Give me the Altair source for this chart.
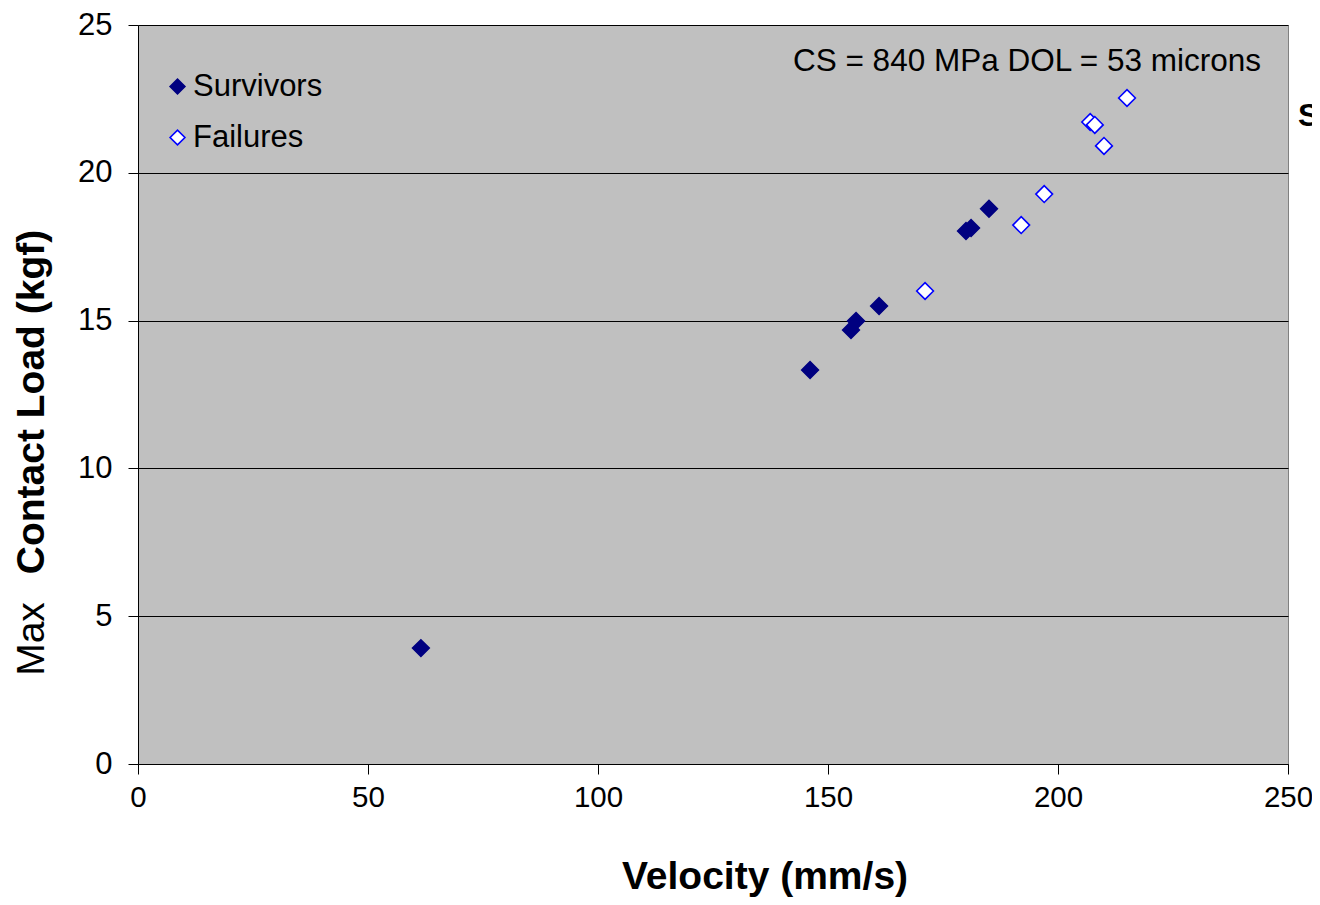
import altair as alt
import pandas as pd

surv_v = [61.5, 146.1, 155.0, 156.1, 161.1, 180.0, 181.1, 185.0]
surv_l = [3.92, 13.33, 14.68, 14.99, 15.49, 18.03, 18.13, 18.78]
fail_v = [171.1, 192.0, 197.0, 207.0, 208.0, 210.0, 215.0]
fail_l = [16.0, 18.23, 19.28, 21.72, 21.62, 20.91, 22.53]

series = ["Survivors", "Failures"]
fills = ["#000080", "#FFFFFF"]
strokes = ["#000080", "#0000FF"]

df = pd.DataFrame({
    "v": surv_v + fail_v,
    "l": surv_l + fail_l,
    "s": ["Survivors"] * len(surv_v) + ["Failures"] * len(fail_v),
})

FONT = "Liberation Sans"

x = alt.X("v:Q", scale=alt.Scale(domain=[0, 250], nice=False),
          axis=alt.Axis(values=[0, 50, 100, 150, 200, 250], title=None,
                        grid=False, domainColor="black", tickColor="black",
                        tickSize=10, labelFontSize=29.5, labelFont=FONT,
                        labelColor="black", labelPadding=9, labelFlush=False))
y = alt.Y("l:Q", scale=alt.Scale(domain=[0, 25], nice=False),
          axis=alt.Axis(values=[0, 5, 10, 15, 20, 25], title=None,
                        grid=True, gridColor="black", gridWidth=1,
                        domainColor="black", tickColor="black",
                        tickSize=10, labelFontSize=31, labelFont=FONT,
                        labelColor="black", labelPadding=16))

points = alt.Chart(df).mark_point(shape="diamond", size=280, filled=False,
                                  strokeWidth=1.6, opacity=1).encode(
    x=x, y=y,
    fill=alt.Fill("s:N", scale=alt.Scale(domain=series, range=fills),
                  legend=alt.Legend(title=None, orient="none", legendX=24,
                                    legendY=46, labelFontSize=31,
                                    labelFont=FONT, labelColor="black",
                                    symbolSize=220, symbolStrokeWidth=1.6,
                                    rowPadding=19, labelOffset=0,
                                    symbolType="diamond", padding=0)),
    stroke=alt.Stroke("s:N", scale=alt.Scale(domain=series, range=strokes),
                      legend=None),
)

annot = alt.Chart(pd.DataFrame({"t": ["CS = 840 MPa DOL = 53 microns"]})).mark_text(
    align="right", baseline="middle", fontSize=31.5, font=FONT, color="black"
).encode(text="t:N", x=alt.value(1123), y=alt.value(37))

ytitle_bold = alt.Chart(pd.DataFrame({"t": ["Contact Load (kgf)"]})).mark_text(
    angle=270, align="center", baseline="middle", fontSize=39, font=FONT,
    fontWeight="bold", color="black"
).encode(text="t:N", x=alt.value(-106), y=alt.value(377))

ytitle_max = alt.Chart(pd.DataFrame({"t": ["Max"]})).mark_text(
    angle=270, align="center", baseline="middle", fontSize=39, font=FONT,
    color="black"
).encode(text="t:N", x=alt.value(-106), y=alt.value(614))

xtitle = alt.Chart(pd.DataFrame({"t": ["Velocity (mm/s)"]})).mark_text(
    align="center", baseline="alphabetic", fontSize=39, font=FONT,
    fontWeight="bold", color="black"
).encode(text="t:N", x=alt.value(627), y=alt.value(864))

side = alt.Chart(pd.DataFrame({"t": ["S"]})).mark_text(
    align="left", baseline="middle", fontSize=32, font=FONT,
    fontWeight="bold", color="black"
).encode(text="t:N", x=alt.value(1160), y=alt.value(91))

chart = alt.layer(points, annot, ytitle_bold, ytitle_max, xtitle, side).properties(
    width=1150, height=739,
    autosize=alt.AutoSizeParams(type="none"),
    padding={"left": 130, "top": 17, "right": 24, "bottom": 133},
    background="white",
).configure_view(fill="#C0C0C0", stroke="#808080", strokeWidth=1)

chart.save("out.html", embed_options={"renderer": "svg", "actions": False})
